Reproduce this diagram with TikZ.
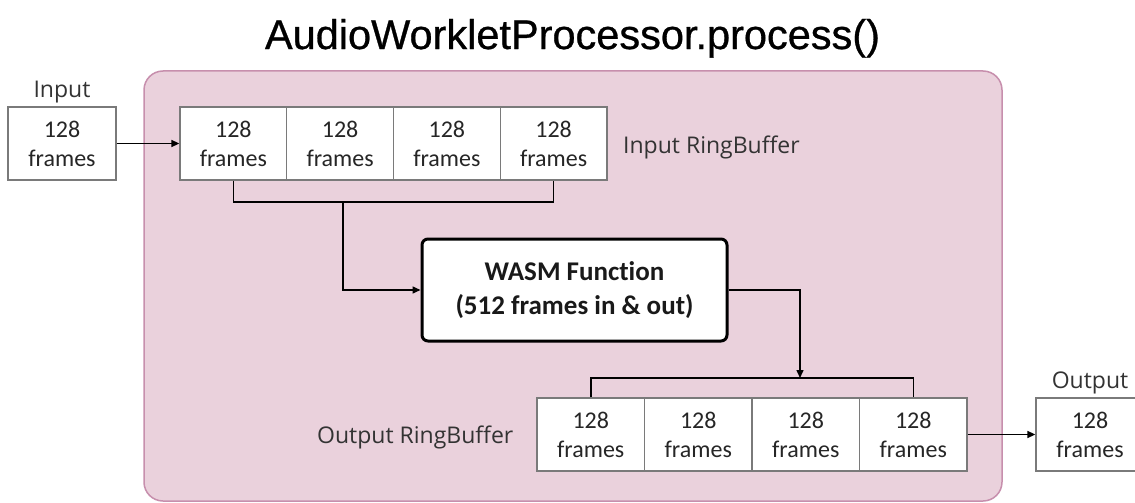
\documentclass[tikz,border=0pt]{standalone}
\usepackage{fontspec}
\setmainfont{Open Sans}
\newfontfamily\cellfont[Ligatures=NoCommon]{Carlito}
\newfontfamily\titlefont[FakeBold=0.7]{Liberation Sans}
\usetikzlibrary{arrows.meta}
\definecolor{pinkfill}{HTML}{EAD1DC}
\definecolor{pinkline}{HTML}{C78FAD}
\definecolor{cellline}{HTML}{7A7A7A}
\definecolor{labeltext}{HTML}{333333}
\begin{document}
\begin{tikzpicture}[x=1pt,y=-1pt,
  cellbox/.style={draw=cellline, line width=1.3pt, fill=white, minimum height=73pt,
    inner sep=0pt, align=center, font=\cellfont\fontsize{24}{29}\selectfont, text=black!85},
  incell/.style={cellbox, minimum width=106.75pt},
  outcell/.style={cellbox, minimum width=107.5pt},
  iobox/.style={cellbox, minimum width=108pt},
  lbl/.style={anchor=base, font=\fontsize{23}{28}\selectfont, text=labeltext, inner sep=0pt},
  conn/.style={draw=black, line width=1.5pt},
  arr/.style={conn, -{Triangle[length=8pt,width=7pt]}},
  wasmbox/.style={draw=black, line width=3pt, rounded corners=6pt, fill=white,
    minimum width=305pt, minimum height=102pt, inner sep=0pt, align=center,
    font=\cellfont\bfseries\fontsize{27}{34}\selectfont, text=black!90}]
\useasboundingbox (0,0) rectangle (1135,503);
\clip (0,0) rectangle (1135,503);
\fill[white] (0,0) rectangle (1135,503);

% process area
\draw[pinkline, fill=pinkfill, line width=1.5pt, rounded corners=19pt] (144,71) rectangle (1002,501);

% title
\node (title) [anchor=base, inner sep=0pt, font=\titlefont\fontsize{41.5}{50}\selectfont] at (572.5,49) {AudioWorkletProcessor.process()};

% input
\node (inlbl) [lbl] at (62,97) {Input};
\node (inbox) [iobox] at (62,143.5) {128\\frames};

% input ring buffer
\node (in1) [incell] at (233.375,143.5) {128\\frames};
\node (in2) [incell] at (340.125,143.5) {128\\frames};
\node (in3) [incell] at (446.875,143.5) {128\\frames};
\node (in4) [incell] at (553.625,143.5) {128\\frames};
\node (inrb) [lbl, anchor=base west] at (623,153) {Input RingBuffer};

% wasm
\node (wasm) [wasmbox] at (574.5,290) {WASM Function\\(512 frames in \& out)};

% output ring buffer
\node (out1) [outcell] at (590.75,434.5) {128\\frames};
\node (out2) [outcell] at (698.25,434.5) {128\\frames};
\node (out3) [outcell] at (805.75,434.5) {128\\frames};
\node (out4) [outcell] at (913.25,434.5) {128\\frames};
\node (outrb) [lbl, anchor=base west] at (317,443) {Output RingBuffer};

% output
\node (outlbl) [lbl] at (1090,388) {Output};
\node (outbox) [iobox] at (1090,434.5) {128\\frames};

% connectors
\coordinate (ib) at (343,202);
\coordinate (ob) at (800,378);
\draw[arr] (inbox.east) -- (in1.west);
\draw[conn] (in1.south) |- (ib) -| (in4.south);
\draw[arr] (ib) |- (wasm.west);
\draw[arr] (wasm.east) -| (ob);
\draw[conn] (out1.north) |- (ob) -| (out4.north);
\draw[arr] (out4.east) -- (outbox.west);
\end{tikzpicture}
\end{document}
